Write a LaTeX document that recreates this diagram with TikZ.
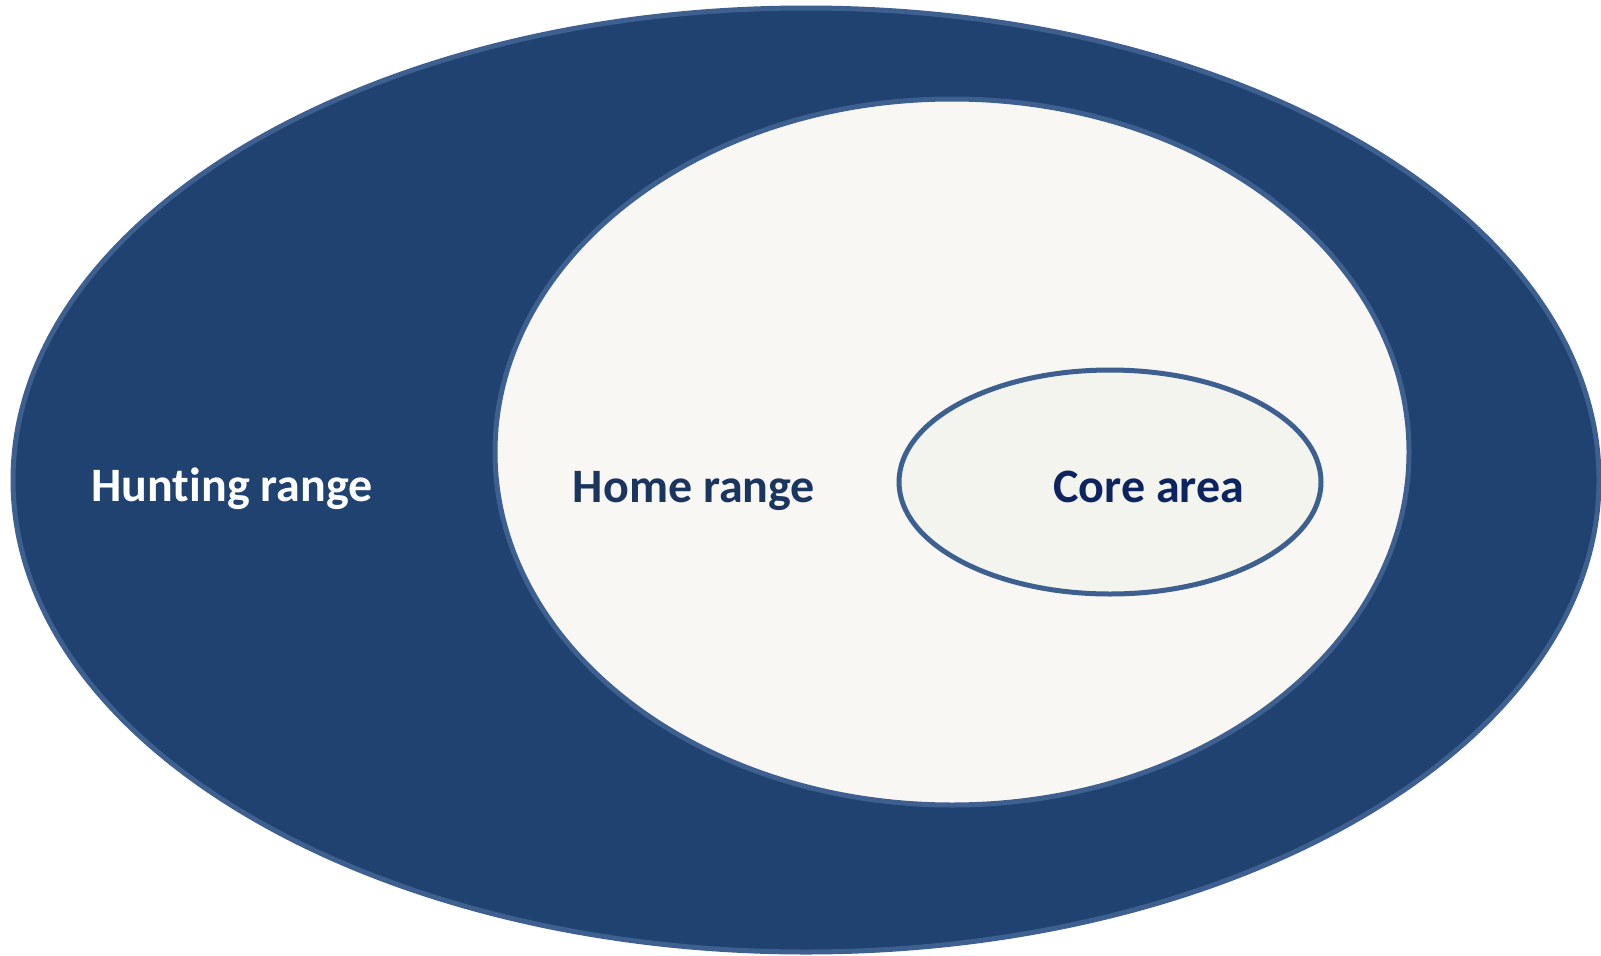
\documentclass[tikz,border=0pt]{standalone}
\usepackage{fontspec}
\setmainfont{Carlito}[RawFeature={-liga;-dlig;-clig}]
\definecolor{outerfill}{HTML}{1F4270}
\definecolor{rim}{HTML}{3D6090}
\definecolor{homefill}{HTML}{F8F7F4}
\definecolor{corefill}{HTML}{F4F4EE}
\definecolor{hometext}{HTML}{1A365F}
\definecolor{coretext}{HTML}{0D2460}
\tikzset{
  zone/.style={draw=rim, line width=5bp},
  lbl/.style={font=\fontsize{48bp}{54bp}\selectfont\bfseries, anchor=base, inner sep=0pt}
}
\begin{document}
\begin{tikzpicture}[x=1bp,y=-1bp]
\useasboundingbox[fill=white] (0,0) rectangle (1601,955);
\draw[zone, fill=outerfill] (806,480) ellipse [x radius=793, y radius=472];
\draw[zone, fill=homefill] (952,452) ellipse [x radius=457, y radius=353];
\draw[zone, fill=corefill] (1110,482) ellipse [x radius=211, y radius=112];
\node[lbl, text=white] (hunt) at (232,501) {Hunting range};
\node[lbl, text=hometext] (home) at (694,502) {Home range};
\node[lbl, text=coretext] (core) at (1149,502) {Core area};
\end{tikzpicture}
\end{document}
